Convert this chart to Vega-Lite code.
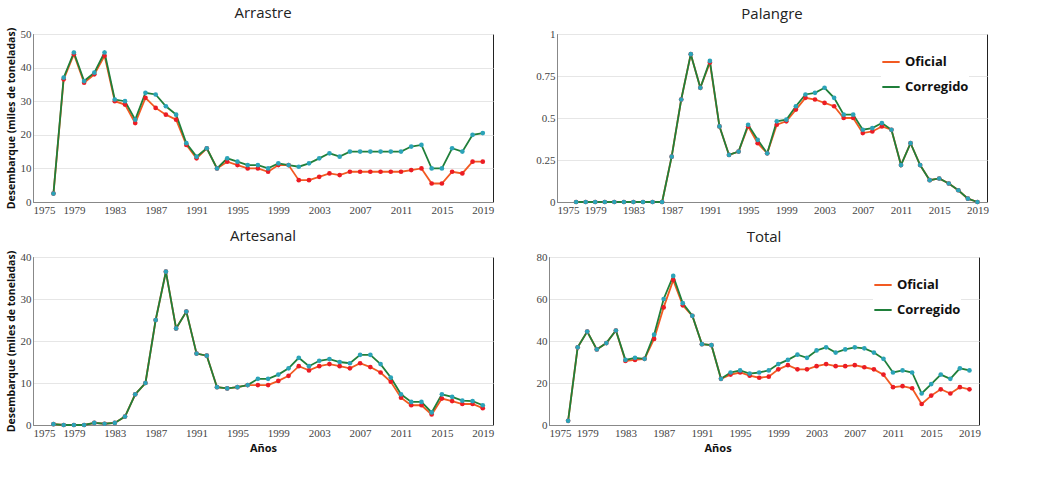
{
  "$schema": "https://vega.github.io/schema/vega-lite/v6.json",
  "background": "white",
  "padding": {"left": 5, "top": 5, "right": 5, "bottom": 0},
  "config": {
    "font": "Open Sans",
    "view": {"stroke": "#222", "strokeWidth": 1},
    "title": {"fontSize": 15, "fontWeight": "normal", "color": "#222", "offset": 6},
    "axis": {"labelFont": "Liberation Serif", "labelFontSize": 11, "labelColor": "#444", "gridColor": "#e6e6e6", "domainColor": "#888", "ticks": false, "titleFontSize": 11, "titleFontWeight": "bold", "titleColor": "#111"},
    "legend": {"labelFontSize": 13, "labelFont": "Open Sans", "labelFontWeight": "bold", "labelColor": "#111", "orient": "top-right", "title": null, "symbolType": "stroke", "symbolSize": 300, "symbolStrokeWidth": 2, "rowPadding": 8, "fillColor": "white"}
  },
  "data": {
    "values": [
      {"p":"Arrastre","a":1977,"Oficial":2.5,"Corregido":2.5},
      {"p":"Arrastre","a":1978,"Oficial":36.5,"Corregido":37},
      {"p":"Arrastre","a":1979,"Oficial":44,"Corregido":44.5},
      {"p":"Arrastre","a":1980,"Oficial":35.5,"Corregido":36},
      {"p":"Arrastre","a":1981,"Oficial":38,"Corregido":38.5},
      {"p":"Arrastre","a":1982,"Oficial":43.5,"Corregido":44.5},
      {"p":"Arrastre","a":1983,"Oficial":30,"Corregido":30.5},
      {"p":"Arrastre","a":1984,"Oficial":29,"Corregido":30},
      {"p":"Arrastre","a":1985,"Oficial":23.5,"Corregido":24.5},
      {"p":"Arrastre","a":1986,"Oficial":31,"Corregido":32.5},
      {"p":"Arrastre","a":1987,"Oficial":28,"Corregido":32},
      {"p":"Arrastre","a":1988,"Oficial":26,"Corregido":28.5},
      {"p":"Arrastre","a":1989,"Oficial":24.5,"Corregido":26},
      {"p":"Arrastre","a":1990,"Oficial":17,"Corregido":17.5},
      {"p":"Arrastre","a":1991,"Oficial":13,"Corregido":13.5},
      {"p":"Arrastre","a":1992,"Oficial":16,"Corregido":16},
      {"p":"Arrastre","a":1993,"Oficial":10,"Corregido":10},
      {"p":"Arrastre","a":1994,"Oficial":12,"Corregido":13},
      {"p":"Arrastre","a":1995,"Oficial":11,"Corregido":12},
      {"p":"Arrastre","a":1996,"Oficial":10,"Corregido":11},
      {"p":"Arrastre","a":1997,"Oficial":10,"Corregido":11},
      {"p":"Arrastre","a":1998,"Oficial":9,"Corregido":10},
      {"p":"Arrastre","a":1999,"Oficial":11,"Corregido":11.5},
      {"p":"Arrastre","a":2000,"Oficial":11,"Corregido":11},
      {"p":"Arrastre","a":2001,"Oficial":6.5,"Corregido":10.5},
      {"p":"Arrastre","a":2002,"Oficial":6.5,"Corregido":11.5},
      {"p":"Arrastre","a":2003,"Oficial":7.5,"Corregido":13},
      {"p":"Arrastre","a":2004,"Oficial":8.5,"Corregido":14.5},
      {"p":"Arrastre","a":2005,"Oficial":8,"Corregido":13.5},
      {"p":"Arrastre","a":2006,"Oficial":9,"Corregido":15},
      {"p":"Arrastre","a":2007,"Oficial":9,"Corregido":15},
      {"p":"Arrastre","a":2008,"Oficial":9,"Corregido":15},
      {"p":"Arrastre","a":2009,"Oficial":9,"Corregido":15},
      {"p":"Arrastre","a":2010,"Oficial":9,"Corregido":15},
      {"p":"Arrastre","a":2011,"Oficial":9,"Corregido":15},
      {"p":"Arrastre","a":2012,"Oficial":9.5,"Corregido":16.5},
      {"p":"Arrastre","a":2013,"Oficial":10,"Corregido":17},
      {"p":"Arrastre","a":2014,"Oficial":5.5,"Corregido":10},
      {"p":"Arrastre","a":2015,"Oficial":5.5,"Corregido":10},
      {"p":"Arrastre","a":2016,"Oficial":9,"Corregido":16},
      {"p":"Arrastre","a":2017,"Oficial":8.5,"Corregido":15},
      {"p":"Arrastre","a":2018,"Oficial":12,"Corregido":20},
      {"p":"Arrastre","a":2019,"Oficial":12,"Corregido":20.5},
      {"p":"Palangre","a":1977,"Oficial":0,"Corregido":0},
      {"p":"Palangre","a":1978,"Oficial":0,"Corregido":0},
      {"p":"Palangre","a":1979,"Oficial":0,"Corregido":0},
      {"p":"Palangre","a":1980,"Oficial":0,"Corregido":0},
      {"p":"Palangre","a":1981,"Oficial":0,"Corregido":0},
      {"p":"Palangre","a":1982,"Oficial":0,"Corregido":0},
      {"p":"Palangre","a":1983,"Oficial":0,"Corregido":0},
      {"p":"Palangre","a":1984,"Oficial":0,"Corregido":0},
      {"p":"Palangre","a":1985,"Oficial":0,"Corregido":0},
      {"p":"Palangre","a":1986,"Oficial":0,"Corregido":0},
      {"p":"Palangre","a":1987,"Oficial":0.27,"Corregido":0.27},
      {"p":"Palangre","a":1988,"Oficial":0.61,"Corregido":0.61},
      {"p":"Palangre","a":1989,"Oficial":0.88,"Corregido":0.88},
      {"p":"Palangre","a":1990,"Oficial":0.68,"Corregido":0.68},
      {"p":"Palangre","a":1991,"Oficial":0.83,"Corregido":0.84},
      {"p":"Palangre","a":1992,"Oficial":0.45,"Corregido":0.45},
      {"p":"Palangre","a":1993,"Oficial":0.28,"Corregido":0.28},
      {"p":"Palangre","a":1994,"Oficial":0.3,"Corregido":0.3},
      {"p":"Palangre","a":1995,"Oficial":0.45,"Corregido":0.46},
      {"p":"Palangre","a":1996,"Oficial":0.35,"Corregido":0.37},
      {"p":"Palangre","a":1997,"Oficial":0.29,"Corregido":0.29},
      {"p":"Palangre","a":1998,"Oficial":0.46,"Corregido":0.48},
      {"p":"Palangre","a":1999,"Oficial":0.48,"Corregido":0.49},
      {"p":"Palangre","a":2000,"Oficial":0.55,"Corregido":0.57},
      {"p":"Palangre","a":2001,"Oficial":0.62,"Corregido":0.64},
      {"p":"Palangre","a":2002,"Oficial":0.61,"Corregido":0.65},
      {"p":"Palangre","a":2003,"Oficial":0.59,"Corregido":0.68},
      {"p":"Palangre","a":2004,"Oficial":0.57,"Corregido":0.62},
      {"p":"Palangre","a":2005,"Oficial":0.5,"Corregido":0.52},
      {"p":"Palangre","a":2006,"Oficial":0.5,"Corregido":0.52},
      {"p":"Palangre","a":2007,"Oficial":0.41,"Corregido":0.43},
      {"p":"Palangre","a":2008,"Oficial":0.42,"Corregido":0.44},
      {"p":"Palangre","a":2009,"Oficial":0.45,"Corregido":0.47},
      {"p":"Palangre","a":2010,"Oficial":0.43,"Corregido":0.43},
      {"p":"Palangre","a":2011,"Oficial":0.22,"Corregido":0.22},
      {"p":"Palangre","a":2012,"Oficial":0.35,"Corregido":0.35},
      {"p":"Palangre","a":2013,"Oficial":0.22,"Corregido":0.22},
      {"p":"Palangre","a":2014,"Oficial":0.13,"Corregido":0.13},
      {"p":"Palangre","a":2015,"Oficial":0.14,"Corregido":0.14},
      {"p":"Palangre","a":2016,"Oficial":0.11,"Corregido":0.11},
      {"p":"Palangre","a":2017,"Oficial":0.07,"Corregido":0.07},
      {"p":"Palangre","a":2018,"Oficial":0.02,"Corregido":0.02},
      {"p":"Palangre","a":2019,"Oficial":0,"Corregido":0},
      {"p":"Artesanal","a":1977,"Oficial":0.2,"Corregido":0.2},
      {"p":"Artesanal","a":1978,"Oficial":0,"Corregido":0},
      {"p":"Artesanal","a":1979,"Oficial":0,"Corregido":0},
      {"p":"Artesanal","a":1980,"Oficial":0,"Corregido":0},
      {"p":"Artesanal","a":1981,"Oficial":0.5,"Corregido":0.5},
      {"p":"Artesanal","a":1982,"Oficial":0.3,"Corregido":0.3},
      {"p":"Artesanal","a":1983,"Oficial":0.5,"Corregido":0.5},
      {"p":"Artesanal","a":1984,"Oficial":2,"Corregido":2},
      {"p":"Artesanal","a":1985,"Oficial":7.3,"Corregido":7.3},
      {"p":"Artesanal","a":1986,"Oficial":10,"Corregido":10},
      {"p":"Artesanal","a":1987,"Oficial":25,"Corregido":25},
      {"p":"Artesanal","a":1988,"Oficial":36.5,"Corregido":36.5},
      {"p":"Artesanal","a":1989,"Oficial":23,"Corregido":23},
      {"p":"Artesanal","a":1990,"Oficial":27,"Corregido":27},
      {"p":"Artesanal","a":1991,"Oficial":17,"Corregido":17},
      {"p":"Artesanal","a":1992,"Oficial":16.5,"Corregido":16.5},
      {"p":"Artesanal","a":1993,"Oficial":9,"Corregido":9},
      {"p":"Artesanal","a":1994,"Oficial":8.7,"Corregido":8.7},
      {"p":"Artesanal","a":1995,"Oficial":9,"Corregido":9},
      {"p":"Artesanal","a":1996,"Oficial":9.5,"Corregido":9.5},
      {"p":"Artesanal","a":1997,"Oficial":9.5,"Corregido":11},
      {"p":"Artesanal","a":1998,"Oficial":9.5,"Corregido":11},
      {"p":"Artesanal","a":1999,"Oficial":10.5,"Corregido":12},
      {"p":"Artesanal","a":2000,"Oficial":11.7,"Corregido":13.5},
      {"p":"Artesanal","a":2001,"Oficial":14,"Corregido":16},
      {"p":"Artesanal","a":2002,"Oficial":13,"Corregido":14},
      {"p":"Artesanal","a":2003,"Oficial":14,"Corregido":15.3},
      {"p":"Artesanal","a":2004,"Oficial":14.5,"Corregido":15.7},
      {"p":"Artesanal","a":2005,"Oficial":14,"Corregido":15},
      {"p":"Artesanal","a":2006,"Oficial":13.5,"Corregido":14.7},
      {"p":"Artesanal","a":2007,"Oficial":14.7,"Corregido":16.7},
      {"p":"Artesanal","a":2008,"Oficial":13.8,"Corregido":16.7},
      {"p":"Artesanal","a":2009,"Oficial":12.5,"Corregido":14.5},
      {"p":"Artesanal","a":2010,"Oficial":10.3,"Corregido":11.3},
      {"p":"Artesanal","a":2011,"Oficial":6.5,"Corregido":7.3},
      {"p":"Artesanal","a":2012,"Oficial":4.7,"Corregido":5.5},
      {"p":"Artesanal","a":2013,"Oficial":4.7,"Corregido":5.5},
      {"p":"Artesanal","a":2014,"Oficial":2.5,"Corregido":3},
      {"p":"Artesanal","a":2015,"Oficial":6.3,"Corregido":7.3},
      {"p":"Artesanal","a":2016,"Oficial":5.7,"Corregido":6.7},
      {"p":"Artesanal","a":2017,"Oficial":5,"Corregido":5.8},
      {"p":"Artesanal","a":2018,"Oficial":5,"Corregido":5.7},
      {"p":"Artesanal","a":2019,"Oficial":4,"Corregido":4.7},
      {"p":"Total","a":1977,"Oficial":2,"Corregido":2},
      {"p":"Total","a":1978,"Oficial":37,"Corregido":37},
      {"p":"Total","a":1979,"Oficial":44.5,"Corregido":44.5},
      {"p":"Total","a":1980,"Oficial":36,"Corregido":36},
      {"p":"Total","a":1981,"Oficial":39,"Corregido":39},
      {"p":"Total","a":1982,"Oficial":45,"Corregido":45},
      {"p":"Total","a":1983,"Oficial":30.5,"Corregido":31},
      {"p":"Total","a":1984,"Oficial":31,"Corregido":32},
      {"p":"Total","a":1985,"Oficial":31.5,"Corregido":31.5},
      {"p":"Total","a":1986,"Oficial":41,"Corregido":43},
      {"p":"Total","a":1987,"Oficial":56,"Corregido":60},
      {"p":"Total","a":1988,"Oficial":69,"Corregido":71},
      {"p":"Total","a":1989,"Oficial":57,"Corregido":58},
      {"p":"Total","a":1990,"Oficial":52,"Corregido":52},
      {"p":"Total","a":1991,"Oficial":38.5,"Corregido":38.5},
      {"p":"Total","a":1992,"Oficial":38,"Corregido":38},
      {"p":"Total","a":1993,"Oficial":22,"Corregido":22},
      {"p":"Total","a":1994,"Oficial":24,"Corregido":25},
      {"p":"Total","a":1995,"Oficial":25,"Corregido":26},
      {"p":"Total","a":1996,"Oficial":23.5,"Corregido":24.5},
      {"p":"Total","a":1997,"Oficial":22.5,"Corregido":25},
      {"p":"Total","a":1998,"Oficial":23,"Corregido":26},
      {"p":"Total","a":1999,"Oficial":26.5,"Corregido":29},
      {"p":"Total","a":2000,"Oficial":28.5,"Corregido":31},
      {"p":"Total","a":2001,"Oficial":26.5,"Corregido":33.5},
      {"p":"Total","a":2002,"Oficial":26.5,"Corregido":32},
      {"p":"Total","a":2003,"Oficial":28,"Corregido":35.5},
      {"p":"Total","a":2004,"Oficial":29,"Corregido":37},
      {"p":"Total","a":2005,"Oficial":28,"Corregido":34.5},
      {"p":"Total","a":2006,"Oficial":28,"Corregido":36},
      {"p":"Total","a":2007,"Oficial":28.5,"Corregido":37},
      {"p":"Total","a":2008,"Oficial":27.5,"Corregido":36.5},
      {"p":"Total","a":2009,"Oficial":26.5,"Corregido":34.5},
      {"p":"Total","a":2010,"Oficial":24,"Corregido":31.5},
      {"p":"Total","a":2011,"Oficial":18,"Corregido":25},
      {"p":"Total","a":2012,"Oficial":18.5,"Corregido":26},
      {"p":"Total","a":2013,"Oficial":17.5,"Corregido":25},
      {"p":"Total","a":2014,"Oficial":10,"Corregido":15},
      {"p":"Total","a":2015,"Oficial":14,"Corregido":19.5},
      {"p":"Total","a":2016,"Oficial":17,"Corregido":24},
      {"p":"Total","a":2017,"Oficial":15,"Corregido":22},
      {"p":"Total","a":2018,"Oficial":18,"Corregido":27},
      {"p":"Total","a":2019,"Oficial":17,"Corregido":26}
    ]
  },
  "transform": [{"fold": ["Oficial", "Corregido"], "as": ["serie", "v"]}],
  "vconcat": [
    {
      "hconcat": [
        {
          "title": "Arrastre", "width": 460, "height": 168,
          "transform": [{"filter": "datum.p === 'Arrastre'"}],
          "encoding": {
            "x": {"field": "a", "type": "quantitative", "scale": {"domain": [1975, 2020]}, "axis": {"values": [1975,1979,1983,1987,1991,1995,1999,2003,2007,2011,2015,2019], "format": "d", "grid": false, "title": null}},
            "y": {"field": "v", "type": "quantitative", "scale": {"domain": [0, 50]}, "axis": {"tickCount": 5, "title": "Desembarque (miles de toneladas)", "titleFontSize": 10.5}}
          },
          "layer": [
            {"mark": {"type": "line", "strokeWidth": 1.8}, "encoding": {"color": {"field": "serie", "type": "nominal", "scale": {"domain": ["Oficial", "Corregido"], "range": ["#f25a22", "#1f7f3a"]}, "legend": null}}},
            {"mark": {"type": "point", "filled": true, "size": 22, "opacity": 1}, "encoding": {"fill": {"field": "serie", "type": "nominal", "scale": {"domain": ["Oficial", "Corregido"], "range": ["#ec1c24", "#2ba3b8"]}, "legend": null}}}
          ]
        },
        {
          "title": "Palangre", "width": 430, "height": 168,
          "transform": [{"filter": "datum.p === 'Palangre'"}],
          "encoding": {
            "x": {"field": "a", "type": "quantitative", "scale": {"domain": [1975, 2020]}, "axis": {"values": [1975,1979,1983,1987,1991,1995,1999,2003,2007,2011,2015,2019], "format": "d", "grid": false, "title": null}},
            "y": {"field": "v", "type": "quantitative", "scale": {"domain": [0, 1]}, "axis": {"values": [0, 0.25, 0.5, 0.75, 1], "format": ".2~f", "title": null}}
          },
          "layer": [
            {"mark": {"type": "line", "strokeWidth": 1.8}, "encoding": {"color": {"field": "serie", "type": "nominal", "scale": {"domain": ["Oficial", "Corregido"], "range": ["#f25a22", "#1f7f3a"]}, "legend": {"orient": "top-right"}}}},
            {"mark": {"type": "point", "filled": true, "size": 22, "opacity": 1}, "encoding": {"fill": {"field": "serie", "type": "nominal", "scale": {"domain": ["Oficial", "Corregido"], "range": ["#ec1c24", "#2ba3b8"]}, "legend": null}}}
          ]
        }
      ],
      "spacing": 40,
      "resolve": {"scale": {"y": "independent", "color": "independent", "fill": "independent"}, "legend": {"color": "independent"}}
    },
    {
      "hconcat": [
        {
          "title": "Artesanal", "width": 460, "height": 168,
          "transform": [{"filter": "datum.p === 'Artesanal'"}],
          "encoding": {
            "x": {"field": "a", "type": "quantitative", "scale": {"domain": [1975, 2020]}, "axis": {"values": [1975,1979,1983,1987,1991,1995,1999,2003,2007,2011,2015,2019], "format": "d", "grid": false, "title": "Años"}},
            "y": {"field": "v", "type": "quantitative", "scale": {"domain": [0, 40]}, "axis": {"tickCount": 4, "title": "Desembarque (miles de toneladas)", "titleFontSize": 10.5}}
          },
          "layer": [
            {"mark": {"type": "line", "strokeWidth": 1.8}, "encoding": {"color": {"field": "serie", "type": "nominal", "scale": {"domain": ["Oficial", "Corregido"], "range": ["#f25a22", "#1f7f3a"]}, "legend": null}}},
            {"mark": {"type": "point", "filled": true, "size": 22, "opacity": 1}, "encoding": {"fill": {"field": "serie", "type": "nominal", "scale": {"domain": ["Oficial", "Corregido"], "range": ["#ec1c24", "#2ba3b8"]}, "legend": null}}}
          ]
        },
        {
          "title": "Total", "width": 430, "height": 168,
          "transform": [{"filter": "datum.p === 'Total'"}],
          "encoding": {
            "x": {"field": "a", "type": "quantitative", "scale": {"domain": [1975, 2020]}, "axis": {"values": [1975,1979,1983,1987,1991,1995,1999,2003,2007,2011,2015,2019], "format": "d", "grid": false, "title": "Años", "titleAnchor": "start", "titleX": 155}},
            "y": {"field": "v", "type": "quantitative", "scale": {"domain": [0, 80]}, "axis": {"tickCount": 4, "title": null}}
          },
          "layer": [
            {"mark": {"type": "line", "strokeWidth": 1.8}, "encoding": {"color": {"field": "serie", "type": "nominal", "scale": {"domain": ["Oficial", "Corregido"], "range": ["#f25a22", "#1f7f3a"]}, "legend": {"orient": "top-right"}}}},
            {"mark": {"type": "point", "filled": true, "size": 22, "opacity": 1}, "encoding": {"fill": {"field": "serie", "type": "nominal", "scale": {"domain": ["Oficial", "Corregido"], "range": ["#ec1c24", "#2ba3b8"]}, "legend": null}}}
          ]
        }
      ],
      "spacing": 40,
      "resolve": {"scale": {"y": "independent", "color": "independent", "fill": "independent"}, "legend": {"color": "independent"}}
    }
  ],
  "spacing": 12,
  "resolve": {"scale": {"y": "independent", "color": "independent", "fill": "independent"}, "legend": {"color": "independent"}}
}
